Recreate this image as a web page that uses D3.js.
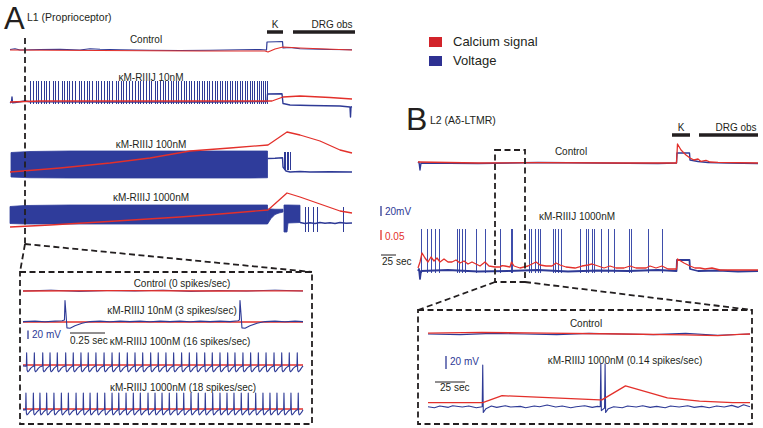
<!DOCTYPE html>
<html><head><meta charset="utf-8">
<script src="https://cdn.jsdelivr.net/npm/d3@7"></script>
<style>
body{margin:0;background:#fff}
text{font-family:"Liberation Sans",Arial,Helvetica,sans-serif;fill:#231f20}
</style>
</head><body><script>
// ================= DATA =================
// Panel A (L1 proprioceptor): time in imaging frames, voltage in mV, calcium in dF/F
const aKWindow = [257, 273];
const aDrgWindow = [283, 345];
const aZoomTime = 15;
const aRowLabels = ["Control", "κM-RIIIJ 10nM", "κM-RIIIJ 100nM", "κM-RIIIJ 1000nM"];

const aCtrlVoltage = [[0,-58],[5,-55],[10,-60],[30,-58],[50,-57],[70,-60],[80,-55],[90,-57],[110,-59],[140,-61],[170,-62],[200,-61],[230,-59],[250,-58],[256.5,-60],[257,-28],[266,-27],[272.5,-26],[273,-52],[280,-50],[290,-55],[320,-58],[342,-59]];
const aCtrlCalcium = [[0,0],[90,-0.005],[190,-0.01],[255,-0.01],[258,-0.02],[265,0.01],[273,0.03],[290,0.02],[342,0]];

const a10Voltage = [[0,-64],[1.5,-60],[2,-40],[2.5,-63],[5,-62],[15,-56],[20,-59],[100,-60],[200,-60],[257,-58],[257.5,-28],[272,-27],[273,-66],[280,-72],[300,-74],[330,-76],[340,-80],[340.5,-120],[341,-80],[342,-79]];
const a10Calcium = [[0,0],[30,0.01],[258,0.01],[262,0.01],[273,0.05],[290,0.06],[320,0.045],[342,0.03]];
const a10Spikes = [20,23,26,28,31,34,36,39,43,45,48,52,54,57,59,62,65,69,71,74,77,79,82,86,88,91,94,97,99,102,106,108,111,113,116,119,122,125,128,130,133,136,139,141,145,147,150,153,155,158,161,163,166,168,171,174,176,179,181,184,187,189,192,194,197,199,202,205,207,210,212,215,217,220,222,225,227,230,232,235,237,240,242,244,247,249,251,253,255,257];
const a10SpikeRange = [-68, 24];

const a100Envelope = [[1,18,-80],[20,22,-83],[60,24,-84],[120,24,-84],[180,24,-84],[240,24,-84],[257.5,24,-83]];
const a100Post = [[257.5,-6],[265,-5],[272.5,-3],[273,-40],[276,-56],[280,-60],[290,-58],[300,-60],[320,-59],[342,-60]];
const a100Spikes = [273.5,275,276.5,278,279.5];
const a100SpikeRange = [-52, 20];
const a100Calcium = [[0,0],[50,0.04],[100,0.09],[140,0.14],[180,0.21],[220,0.24],[258,0.27],[277,0.40],[290,0.37],[310,0.31],[330,0.22],[342,0.19]];

const a1000Envelope = [[0,2,-66],[15,6,-68],[60,8,-68],[120,8,-68],[200,8,-68],[257.5,8,-68]];
const a1000Ramp = [[257.5,-8,-68],[261,-8,-46],[265,-9,-30],[269,-9,-24],[273,-9,-20]];
const a1000Burst = [[274,8,-100],[277,8,-100],[278,8,-64],[290,7,-62]];
const a1000Post = [[290,-62],[295,-66],[300,-63],[305,-66],[310,-62],[315,-65],[320,-63],[325,-66],[330,-62],[336,-65],[342,-64]];
const a1000Spikes = [295,298,303,307,333];
const a1000SpikeRange = [-100, 0];
const a1000Calcium = [[0,0],[40,0.02],[90,0.05],[130,0.075],[170,0.10],[210,0.13],[258,0.17],[277,0.34],[290,0.30],[310,0.23],[330,0.16],[342,0.14]];

// Panel A zoom (seconds)
const aInsetLabels = ["Control (0 spikes/sec)", "κM-RIIIJ 10nM (3 spikes/sec)", "κM-RIIIJ 100nM (16 spikes/sec)", "κM-RIIIJ 1000nM (18 spikes/sec)"];
const insCtrlVoltage = [[0,-60],[0.2,-58],[0.4,-61],[0.6,-59],[0.8,-60],[1.0,-58],[1.2,-61],[1.4,-59],[1.6,-60],[1.8,-58],[2.0,-60]];
const insCtrlCalcium = [[0,0],[0.7,0.003],[1.4,0],[2,0.002]];
const ins10Voltage = [[0,-59],[0.086,-58],[0.157,-59.5],[0.229,-58],[0.279,-57],[0.296,-55],[0.3,-9],[0.307,-40],[0.314,-74],[0.336,-75],[0.371,-69],[0.421,-63],[0.479,-59],[0.55,-58],[0.621,-59.5],[0.693,-58],[0.764,-59],[0.836,-58],[0.907,-59.5],[0.979,-58],[1.05,-59],[1.121,-58],[1.193,-59.5],[1.264,-58],[1.336,-59],[1.407,-58],[1.479,-59],[1.536,-57],[1.546,-55],[1.55,-9],[1.557,-40],[1.564,-74],[1.586,-75],[1.621,-69],[1.671,-63],[1.729,-59],[1.8,-58],[1.871,-59.5],[1.943,-58],[2.0,-59]];
const ins10Calcium = [[0,0],[2,0]];
const ins100Spikes = [0.026,0.081,0.141,0.193,0.245,0.305,0.359,0.414,0.466,0.521,0.579,0.636,0.688,0.745,0.8,0.855,0.912,0.966,1.021,1.076,1.133,1.188,1.241,1.298,1.352,1.407,1.462,1.514,1.571,1.626,1.681,1.736,1.793,1.848,1.902,1.959];
const ins100Waveform = [[-0.006,-63],[-0.002,-60],[0,-31],[0.003,-72],[0.008,-76],[0.016,-74],[0.028,-68],[0.042,-64]];
const ins100Calcium = [[0,0],[2,0]];
const ins1000Spikes = [0.021,0.074,0.121,0.169,0.221,0.274,0.324,0.379,0.431,0.479,0.531,0.584,0.636,0.684,0.736,0.788,0.838,0.893,0.943,0.993,1.045,1.098,1.148,1.2,1.252,1.302,1.355,1.407,1.457,1.507,1.559,1.609,1.662,1.714,1.764,1.814,1.864,1.914,1.966];
const ins1000Waveform = [[-0.005,-62],[-0.002,-59],[0,-22],[0.003,-70],[0.007,-74],[0.015,-72],[0.026,-67],[0.038,-63]];
const ins1000Calcium = [[0,0],[2,0]];
const aInsetVoltBar = 20;   // mV
const aInsetTimeBar = 0.25; // s

// Panel B (L2 Aδ-LTMR): time in imaging frames
const bKWindow = [254, 272];
const bDrgWindow = [281, 340];
const bZoomWindow = [77, 107];
const bRowLabels = ["Control", "κM-RIIIJ 1000nM"];
const bCtrlVoltage = [[0,-60],[1,-58],[2,-74],[3,-60],[60,-61],[120,-59],[180,-60],[240,-61],[258.5,-60],[259,-40],[271.5,-40],[272,-54],[280,-57],[290,-59],[310,-60],[340,-61]];
const bCtrlCalcium = [[0,0.005],[60,0],[120,0.002],[200,0],[258.5,0],[259.5,0.095],[263,0.065],[268,0.04],[272,0.025],[276,0.015],[280,0.02],[283,0.008],[288,0.013],[292,0.005],[300,0.003],[340,0]];
const b1000Voltage = [[0,-60],[1,-56],[2,-76],[3,-60],[30,-58],[60,-61],[90,-60],[120,-58],[150,-61],[180,-59],[210,-60],[240,-58],[258.5,-60],[259,-38],[271.5,-38],[272,-56],[280,-60],[300,-59],[320,-61],[340,-60]];
const b1000Spikes = [3,9,13,17,21,39,41,44,47,58,67,82,93,93.5,111,113,117,120,122,135,137,140,143,162,168,170,174,176,183,190,196,211,213,230,244];
const b1000SpikeRange = [-64, 24];
const b1000Calcium = [[0,0.01],[2,0.04],[4,0.085],[7,0.06],[10,0.04],[13,0.065],[16,0.045],[19,0.06],[22,0.04],[26,0.055],[30,0.04],[34,0.04],[38,0.05],[42,0.035],[46,0.045],[50,0.03],[54,0.04],[58,0.03],[62,0.02],[67,0.04],[71,0.02],[77,0.015],[82,0.015],[84,0.022],[87,0.02],[92,0.015],[93.5,0.04],[96,0.02],[102,0.01],[110,0.02],[114,0.03],[118,0.04],[122,0.025],[128,0.02],[134,0.02],[138,0.035],[142,0.025],[148,0.015],[157,0.01],[164,0.02],[170,0.025],[174,0.03],[180,0.02],[186,0.01],[192,0.02],[198,0.01],[206,0.01],[212,0.02],[218,0.01],[228,0.01],[232,0.02],[238,0.01],[244,0.02],[250,0.005],[258.5,0.005],[259.5,0.055],[266,0.035],[272,0.02],[277,0.01],[282,0.01],[287,0.005],[294,0.01],[302,0],[340,0]];
const bVoltBar = 20, bCaBar = 0.05, bTimeBarSec = 25, bFramesPerSec = 0.6;

// Panel B zoom
const bInsetLabels = ["Control", "κM-RIIIJ 1000nM (0.14 spikes/sec)"];
const bInsCtrlVoltage = [[77,-60],[80,-61],[83,-59],[86,-60],[89,-61],[92,-59],[95,-60],[98,-61],[101,-59],[104,-62],[107,-60]];
const bInsCtrlCalcium = [[77,0.002],[82,0.004],[88,0.002],[95,0],[101,-0.002],[104,-0.004],[106,-0.001],[107,0]];
const bIns1000Voltage = [[77,-60],[77.6,-61.5],[78.1,-59],[78.9,-61],[79.3,-58.5],[80.2,-60.5],[80.8,-59],[81.5,-61.5],[82.05,-60],[82.1,4],[82.15,-69],[82.4,-63],[82.9,-59],[83.4,-61],[84.2,-58.5],[84.7,-60.5],[85.6,-59.5],[86.1,-61.5],[86.9,-59],[87.4,-60],[88.1,-57.5],[88.9,-60.5],[89.5,-59],[90.3,-61.5],[90.8,-60],[91.6,-58.5],[92.3,-61],[92.8,-59.5],[93.05,-60],[93.1,6],[93.15,-66],[93.45,-62],[93.5,6],[93.55,-69],[93.8,-63],[94.3,-60],[95.1,-61.5],[95.6,-59],[96.4,-60.5],[97,-58.5],[97.7,-61],[98.3,-59.5],[99.1,-61.5],[99.6,-59],[100.4,-60.5],[101.2,-58.5],[101.8,-61],[102.5,-59.5],[103.2,-61.5],[103.9,-59],[104.6,-60.5],[105.3,-58],[105.9,-61],[106.4,-57],[107,-60]];
const bIns1000Calcium = [[77,0.01],[82.1,0.01],[83.9,0.0275],[93,0.017],[93.2,0.017],[95.4,0.052],[97.6,0.035],[99.3,0.022],[102.3,0.014],[105.4,0.01],[107,0.01]];
const bInsVoltBar = 20, bInsTimeBar = 2.8;

const legendItems = [{label:"Calcium signal", color:"#d2232a"}, {label:"Voltage", color:"#2e3192"}];

// ================= DRAWING =================
const RED = "#e3302b", BLUE = "#2e3a96", INK = "#231f20";
const svg = d3.select("body").append("svg").attr("width", 763).attr("height", 428);

function vScale(base, pxPerMv) { return d3.scaleLinear().domain([-60, 40]).range([base, base - 100 * pxPerMv]); }
function cScale(base, pxPerUnit) { return d3.scaleLinear().domain([0, 1]).range([base, base - pxPerUnit]); }
function drawLine(data, x, y, color, w) {
  svg.append("path").datum(data)
    .attr("d", d3.line().x(d => x(d[0])).y(d => y(d[1])))
    .attr("fill", "none").attr("stroke", color).attr("stroke-width", w)
    .attr("stroke-linejoin", "round");
}
function drawBand(data, x, y, color) {
  svg.append("path").datum(data)
    .attr("d", d3.area().x(d => x(d[0])).y0(d => y(d[2])).y1(d => y(d[1])))
    .attr("fill", color).attr("stroke", color).attr("stroke-width", 0.8);
}
function drawSpikes(times, range, x, y, color, w) {
  svg.append("g").selectAll("line").data(times).join("line")
    .attr("x1", t => Math.round(x(t)) + 0.5).attr("x2", t => Math.round(x(t)) + 0.5)
    .attr("y1", y(range[0])).attr("y2", y(range[1]))
    .attr("stroke", color).attr("stroke-width", w);
}
function spikeTrain(times, wave, start, end, rest) {
  const pts = [[start, rest]];
  times.forEach(t => wave.forEach(([dt, v]) => pts.push([t + dt, v])));
  pts.push([end, rest]);
  return pts.filter(p => p[0] >= start && p[0] <= end).sort((a, b) => a[0] - b[0]);
}
function label(txt, x, y, size, anchor, color) {
  svg.append("text").attr("x", x).attr("y", y).attr("font-size", size)
    .attr("text-anchor", anchor || "start").style("fill", color || INK).text(txt);
}
function dashed(x1, y1, x2, y2) {
  svg.append("line").attr("x1", x1).attr("y1", y1).attr("x2", x2).attr("y2", y2)
    .attr("stroke", INK).attr("stroke-width", 1.8).attr("stroke-dasharray", "6,3.5");
}
function dashedRect(x, y, w, h) {
  svg.append("rect").attr("x", x).attr("y", y).attr("width", w).attr("height", h)
    .attr("fill", "none").attr("stroke", INK).attr("stroke-width", 1.8).attr("stroke-dasharray", "6,3.5");
}
function hbar(xs, win, yBar) {
  svg.append("line").attr("x1", xs(win[0])).attr("x2", xs(win[1])).attr("y1", yBar).attr("y2", yBar)
    .attr("stroke", INK).attr("stroke-width", 3.5);
}

// ---------- Panel A ----------
const xA = d3.scaleLinear().domain([0, 342]).range([10, 352]);
label("A", 4, 29, 31);
label("L1 (Proprioceptor)", 27, 21, 10.5);
hbar(xA, aKWindow, 32);
label("K", (xA(aKWindow[0]) + xA(aKWindow[1])) / 2, 28, 10, "middle");
hbar(xA, aDrgWindow, 32);
label("DRG obs", 332, 28, 10, "middle");

const aRows = [
  {v: vScale(50, 0.25), c: cScale(50, 100), lab: 43},
  {v: vScale(102, 0.25), c: cScale(102, 100), lab: 81},
  {v: vScale(172, 0.25), c: cScale(172, 100), lab: 148},
  {v: vScale(222, 0.25), c: cScale(227, 100), lab: 201}
];
aRows.forEach((r, i) => label(aRowLabels[i], i === 0 ? 146 : 151, r.lab, 10, "middle"));

drawLine(aCtrlVoltage, xA, aRows[0].v, BLUE, 1.2);
drawLine(aCtrlCalcium, xA, aRows[0].c, RED, 1.2);

drawSpikes(a10Spikes, a10SpikeRange, xA, aRows[1].v, BLUE, 1);
drawLine(a10Voltage, xA, aRows[1].v, BLUE, 1.4);
drawLine(a10Calcium, xA, aRows[1].c, RED, 1.3);

drawBand(a100Envelope, xA, aRows[2].v, "#2f3c9b");
drawLine(a100Post, xA, aRows[2].v, BLUE, 1.4);
drawSpikes(a100Spikes, a100SpikeRange, xA, aRows[2].v, BLUE, 1);
drawLine(a100Calcium, xA, aRows[2].c, RED, 1.3);

drawBand(a1000Envelope, xA, aRows[3].v, "#2f3c9b");
drawBand(a1000Ramp, xA, aRows[3].v, "#2f3c9b");
drawBand(a1000Burst, xA, aRows[3].v, "#2f3c9b");
drawLine(a1000Post, xA, aRows[3].v, BLUE, 1.4);
drawSpikes(a1000Spikes, a1000SpikeRange, xA, aRows[3].v, BLUE, 1);
drawLine(a1000Calcium, xA, aRows[3].c, RED, 1.3);

// zoom marker and inset
const zx = xA(aZoomTime);
dashed(zx, 38, zx, 244);
dashed(zx, 244, 20, 272);
dashed(zx, 244, 312, 272);
dashedRect(20, 272, 292, 152);

const xAi = d3.scaleLinear().domain([0, 2]).range([23, 303]);
const aIns = [
  {v: vScale(291, 0.42), c: cScale(291, 100), lab: 287},
  {v: vScale(322, 0.42), c: cScale(322, 100), lab: 314},
  {v: vScale(365, 0.42), c: cScale(365, 100), lab: 345},
  {v: vScale(409, 0.42), c: cScale(409, 100), lab: 391}
];
const aInsCx = [182, 172, 180, 183];
aIns.forEach((r, i) => label(aInsetLabels[i], aInsCx[i], r.lab, 10, "middle"));
drawLine(insCtrlVoltage, xAi, aIns[0].v, BLUE, 1);
drawLine(insCtrlCalcium, xAi, aIns[0].c, RED, 1.3);
drawLine(ins10Calcium, xAi, aIns[1].c, RED, 1.3);
drawLine(ins10Voltage, xAi, aIns[1].v, BLUE, 1.1);
drawLine(ins100Calcium, xAi, aIns[2].c, RED, 1.3);
drawLine(spikeTrain(ins100Spikes, ins100Waveform, 0, 2, -62), xAi, aIns[2].v, BLUE, 1.1);
drawLine(ins1000Calcium, xAi, aIns[3].c, RED, 1.3);
drawLine(spikeTrain(ins1000Spikes, ins1000Waveform, 0, 2, -62), xAi, aIns[3].v, BLUE, 1.1);
// scale bars (inset A)
const sbV = vScale(339, 0.42);
svg.append("line").attr("x1", 28).attr("x2", 28).attr("y1", sbV(-60)).attr("y2", sbV(-60 + aInsetVoltBar)).attr("stroke", BLUE).attr("stroke-width", 1.3);
label("20 mV", 32, 338, 10, "start", BLUE);
svg.append("line").attr("x1", 70).attr("x2", 70 + xAi(aInsetTimeBar) - xAi(0)).attr("y1", 333).attr("y2", 333).attr("stroke", INK).attr("stroke-width", 1);
label("0.25 sec", 70, 344, 10);

// ---------- Legend ----------
legendItems.forEach((d, i) => {
  svg.append("rect").attr("x", 429).attr("y", 37 + i * 19).attr("width", 13).attr("height", 10).attr("fill", d.color);
  label(d.label, 453, 46 + i * 19, 13);
});

// ---------- Panel B ----------
const xB = d3.scaleLinear().domain([0, 340]).range([418, 758]);
label("B", 406, 130, 32);
label("L2 (Aδ-LTMR)", 430, 124, 10.5);
hbar(xB, bKWindow, 135);
label("K", (xB(bKWindow[0]) + xB(bKWindow[1])) / 2, 131, 10, "middle");
hbar(xB, bDrgWindow, 135);
label("DRG obs", 736, 131, 10, "middle");

const bRows = [
  {v: vScale(163, 0.5), c: cScale(163, 200), lab: 155, cx: 571},
  {v: vScale(271, 0.5), c: cScale(270, 200), lab: 220, cx: 577}
];
bRows.forEach((r, i) => label(bRowLabels[i], r.cx, r.lab, 10, "middle"));
drawLine(bCtrlVoltage, xB, bRows[0].v, BLUE, 1.4);
drawLine(bCtrlCalcium, xB, bRows[0].c, RED, 1.3);
drawSpikes(b1000Spikes, b1000SpikeRange, xB, bRows[1].v, "#3f4eab", 1);
drawLine(b1000Voltage, xB, bRows[1].v, BLUE, 1.8);
drawLine(b1000Calcium, xB, bRows[1].c, RED, 1.3);

// scale bars panel B
const sbBV = vScale(216, 0.5), sbBC = cScale(240, 200);
svg.append("line").attr("x1", 381).attr("x2", 381).attr("y1", sbBV(-60)).attr("y2", sbBV(-60 + bVoltBar)).attr("stroke", BLUE).attr("stroke-width", 1.3);
label("20mV", 385, 215, 10, "start", BLUE);
svg.append("line").attr("x1", 381).attr("x2", 381).attr("y1", sbBC(0)).attr("y2", sbBC(bCaBar)).attr("stroke", RED).attr("stroke-width", 1.3);
label("0.05", 385, 240, 10, "start", RED);
const bBarFrames = bTimeBarSec * bFramesPerSec;
svg.append("line").attr("x1", 381).attr("x2", 381 + xB(bBarFrames) - xB(0)).attr("y1", 255).attr("y2", 255).attr("stroke", INK).attr("stroke-width", 1);
label("25 sec", 382, 265, 10);

// zoom window B
const bx0 = xB(bZoomWindow[0]), bx1 = xB(bZoomWindow[1]);
dashedRect(bx0, 150, bx1 - bx0, 132);
dashed(bx0, 282, 418, 310);
dashed(bx1, 282, 752, 310);
dashedRect(418, 310, 334, 114);

const xBi = d3.scaleLinear().domain(bZoomWindow).range([428, 750]);
const bIns = [
  {v: vScale(334, 0.65), c: cScale(334, 400), lab: 327, cx: 586},
  {v: vScale(406.7, 0.65), c: cScale(406.7, 400), lab: 364, cx: 625}
];
bIns.forEach((r, i) => label(bInsetLabels[i], r.cx, r.lab, 10, "middle"));
drawLine(bInsCtrlVoltage, xBi, bIns[0].v, BLUE, 1.1);
drawLine(bInsCtrlCalcium, xBi, bIns[0].c, RED, 1.3);
drawLine(bIns1000Voltage, xBi, bIns[1].v, BLUE, 1.1);
drawLine(bIns1000Calcium, xBi, bIns[1].c, RED, 1.3);
const sbBiV = vScale(369, 0.65);
svg.append("line").attr("x1", 446).attr("x2", 446).attr("y1", sbBiV(-60)).attr("y2", sbBiV(-60 + bInsVoltBar)).attr("stroke", BLUE).attr("stroke-width", 1.3);
label("20 mV", 450, 365, 10, "start", BLUE);
svg.append("line").attr("x1", 435).attr("x2", 435 + xBi(77 + bInsTimeBar) - xBi(77)).attr("y1", 382).attr("y2", 382).attr("stroke", INK).attr("stroke-width", 1);
label("25 sec", 440, 391, 10);
</script></body></html>
